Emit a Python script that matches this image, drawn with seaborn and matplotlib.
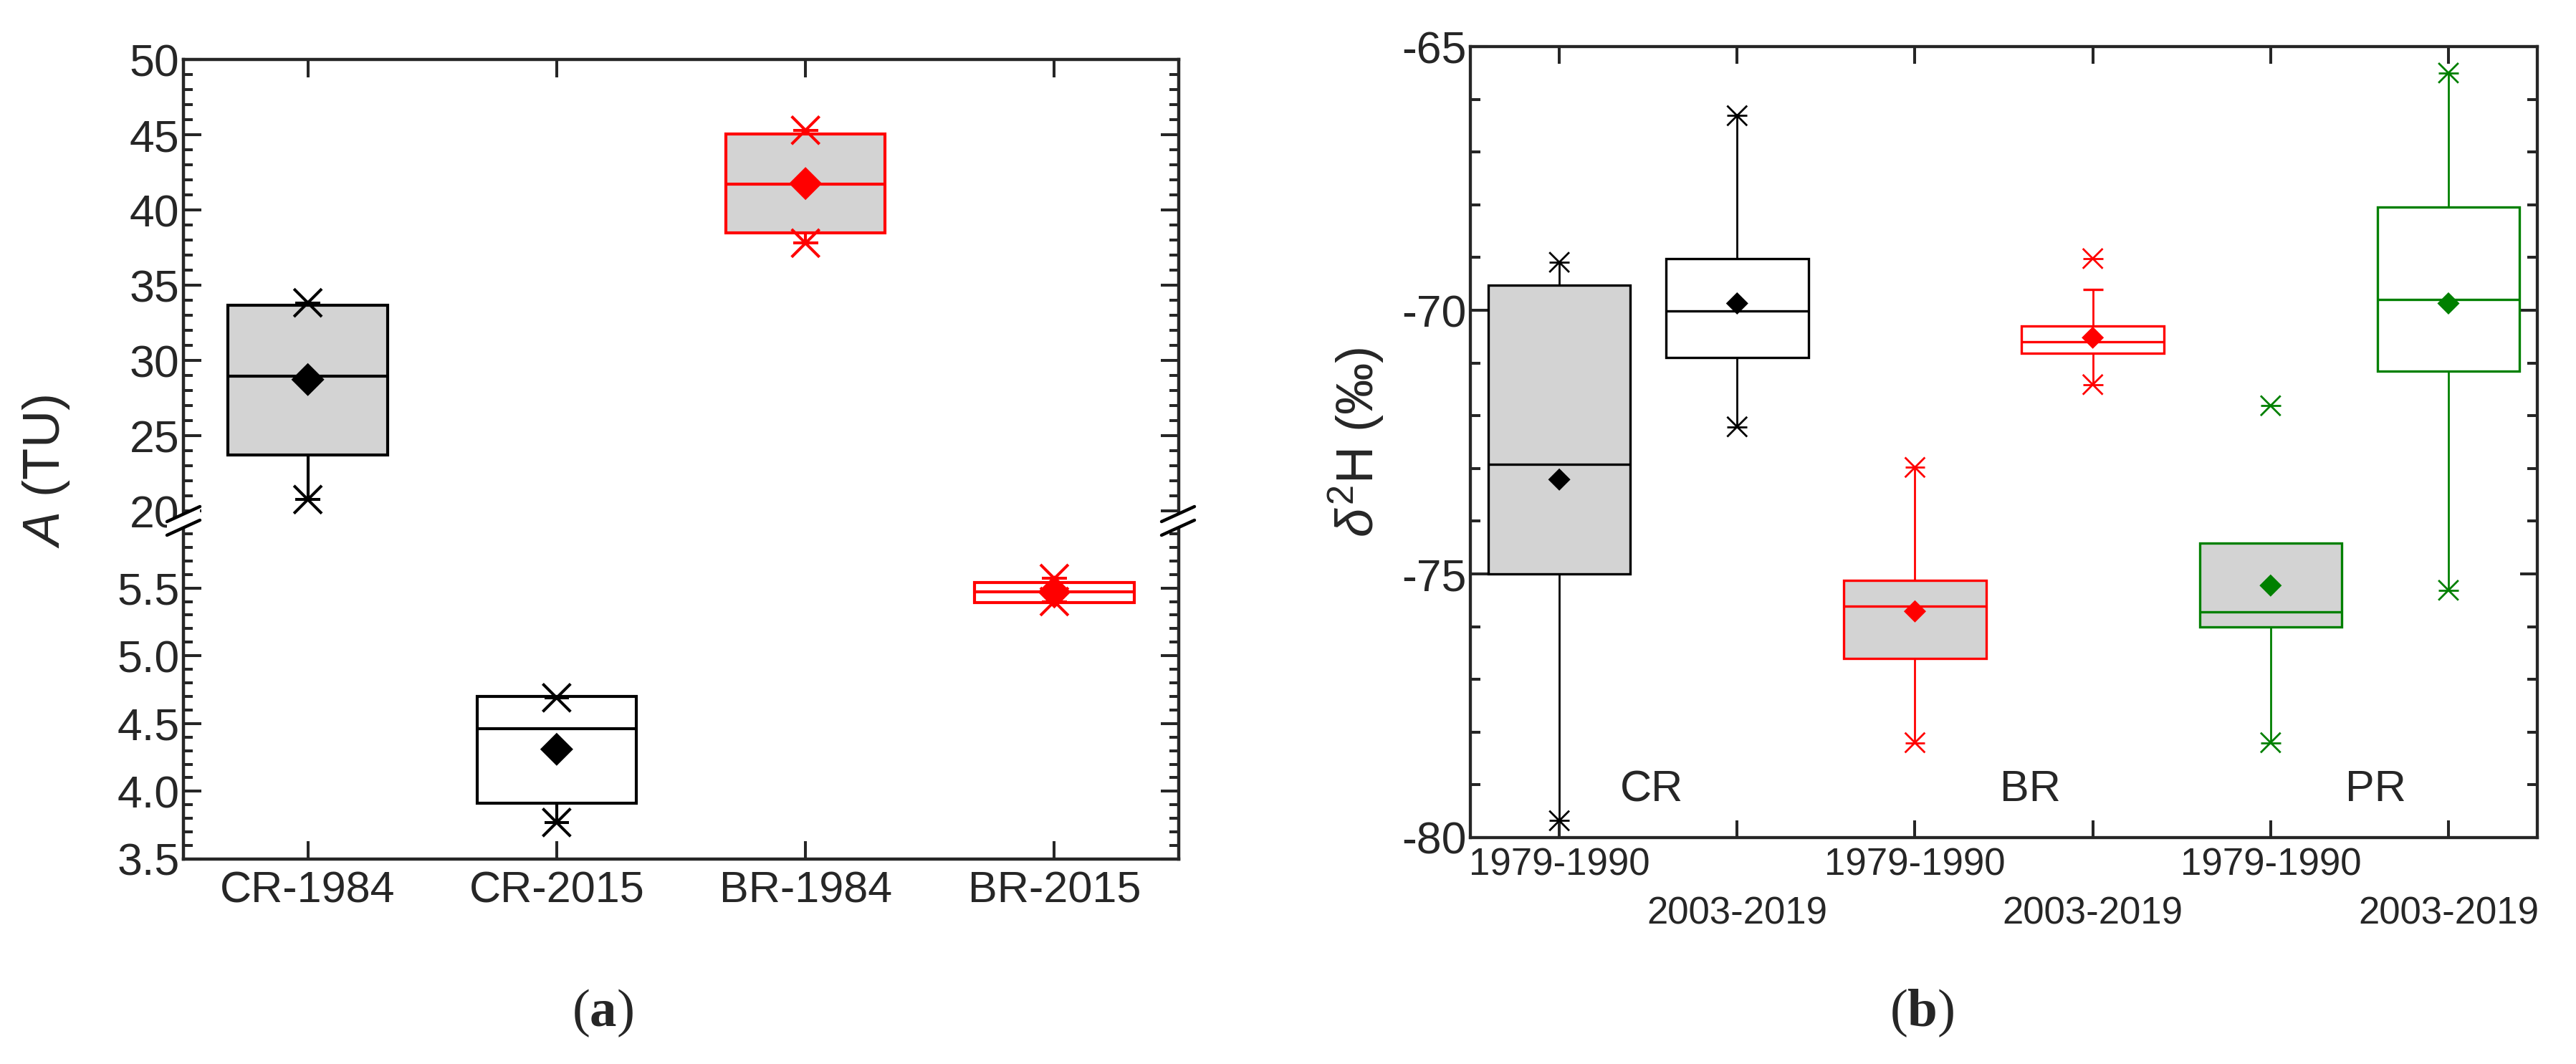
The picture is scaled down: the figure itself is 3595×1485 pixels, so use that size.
import numpy as np
import pandas as pd
import matplotlib
matplotlib.use('Agg')
import matplotlib.pyplot as plt
from matplotlib.patches import Polygon
from matplotlib.lines import Line2D
from matplotlib.ticker import MultipleLocator, FixedLocator, FormatStrFormatter
import seaborn as sns

# (a) tritium activity, A (TU)
grupos_a = ['CR-1984', 'CR-2015', 'BR-1984', 'BR-2015']
cores_a = ['black', 'black', 'red', 'red']
fundo_a = ['lightgray', 'white', 'lightgray', 'white']
q1_a = [23.72, 3.91, 38.50, 5.39]
mediana_a = [28.96, 4.46, 41.72, 5.47]
q3_a = [33.66, 4.70, 45.03, 5.54]
media_a = [28.74, 4.31, 41.76, 5.47]
min_a = [20.77, 3.77, 37.80, 5.40]
max_a = [33.84, 4.69, 45.30, 5.57]

# (b) delta 2H (permil)
periodos_b = ['1979-1990', '2003-2019', '1979-1990', '2003-2019', '1979-1990', '2003-2019']
rios_b = ['CR', 'BR', 'PR']
rios_x = [1.52, 3.65, 5.59]
cores_b = ['black', 'black', 'red', 'red', 'green', 'green']
fundo_b = ['lightgray', 'white', 'lightgray', 'white', 'lightgray', 'white']
q1_b = [-75.00, -70.90, -76.61, -70.82, -76.01, -71.15]
mediana_b = [-72.92, -70.02, -75.61, -70.60, -75.72, -69.80]
q3_b = [-69.52, -69.02, -75.12, -70.30, -74.41, -68.04]
media_b = [-73.21, -69.87, -75.71, -70.52, -75.22, -69.87]
bigode_min_b = [-79.68, -72.21, -78.20, -71.41, -78.20, -75.31]
bigode_max_b = [-69.09, -66.31, -72.98, -69.61, -74.41, -65.50]
min_b = [-79.68, -72.21, -78.20, -71.41, -78.20, -75.31]
max_b = [-69.09, -66.31, -72.98, -69.02, -71.81, -65.50]
com_capa_b = [False, False, False, True, False, False]

sns.set_style('ticks')
plt.rcParams['font.family'] = ['Liberation Sans', 'DejaVu Sans']
plt.rcParams['axes.unicode_minus'] = False
plt.rcParams['mathtext.fontset'] = 'custom'
plt.rcParams['mathtext.rm'] = 'Liberation Sans'
plt.rcParams['mathtext.it'] = 'Liberation Sans:italic'
plt.rcParams['mathtext.bf'] = 'Liberation Serif:bold'

fig = plt.figure(figsize=(35.95, 14.85), dpi=100)
ax_hi = fig.add_axes([0.0712, 0.5111, 0.3864, 0.4330])
ax_lo = fig.add_axes([0.0712, 0.1926, 0.3864, 0.3185])
ax_b = fig.add_axes([0.5708, 0.2128, 0.4142, 0.7434])


def caixa(ax, pos, q1, med, q3, lo, hi, cor, fundo, larg, lw, wlw):
    stats = [dict(med=med, q1=q1, q3=q3, whislo=lo, whishi=hi, fliers=[])]
    ax.bxp(stats, positions=[pos], widths=larg, patch_artist=True,
           showfliers=False, showcaps=False, manage_ticks=False,
           boxprops=dict(facecolor=fundo, edgecolor=cor, linewidth=lw),
           medianprops=dict(color=cor, linewidth=lw),
           whiskerprops=dict(color=cor, linewidth=wlw))


pos_a = np.arange(1, len(grupos_a) + 1)
paleta = {'black': 'black', 'red': 'red', 'green': 'green'}

for ax in (ax_hi, ax_lo):
    for i in range(len(grupos_a)):
        hi = max(max_a[i], q3_a[i])
        caixa(ax, pos_a[i], q1_a[i], mediana_a[i], q3_a[i], min_a[i], hi,
              cores_a[i], fundo_a[i], 0.64, 3.0, 3.0)
    # extremos: x + barra horizontal
    for y in (min_a, max_a):
        sns.scatterplot(x=pos_a, y=y, hue=cores_a, palette=paleta, marker='x',
                        s=784, linewidth=2.9, legend=False, ax=ax, zorder=4)
        sns.scatterplot(x=pos_a, y=y, hue=cores_a, palette=paleta, marker='_',
                        s=625, linewidth=2.9, legend=False, ax=ax, zorder=4)
    sns.scatterplot(x=pos_a, y=media_a, hue=cores_a, palette=paleta, marker='D',
                    s=550, linewidth=0, legend=False, ax=ax, zorder=5)
    ax.set_xlim(0.5, 4.5)
    ax.set_xlabel('')
    ax.set_ylabel('')
    ax.set_xticks(pos_a)
    for sp in ax.spines.values():
        sp.set_linewidth(3.2)
        sp.set_visible(True)
    ax.tick_params(which='major', direction='in', length=18, width=2.9,
                   labelsize=45, right=True, top=True, pad=4)
    ax.tick_params(which='minor', direction='in', length=9.5, width=2.9,
                   right=True, left=True)

ax_hi.set_ylim(19.4, 50)
ax_hi.yaxis.set_major_locator(FixedLocator(np.arange(20, 51, 5)))
ax_hi.yaxis.set_minor_locator(MultipleLocator(1))
ax_hi.spines['bottom'].set_visible(False)
ax_hi.tick_params(axis='x', bottom=False, labelbottom=False)

ax_lo.set_ylim(3.5, 6.0)
ax_lo.yaxis.set_major_locator(FixedLocator(np.arange(3.5, 5.51, 0.5)))
ax_lo.yaxis.set_minor_locator(MultipleLocator(0.1))
ax_lo.yaxis.set_major_formatter(FormatStrFormatter('%.1f'))
ax_lo.spines['top'].set_visible(False)
ax_lo.tick_params(axis='x', top=False, pad=12, labelsize=44)
ax_lo.set_xticklabels(grupos_a)

# marcas de quebra do eixo
W, H = 3595, 1485
for xs in (256, 1644):
    l1 = [((xs - 23) / W, 1 - 728 / H), ((xs + 23) / W, 1 - 707 / H)]
    l2 = [((xs - 23) / W, 1 - 747 / H), ((xs + 23) / W, 1 - 726 / H)]
    fig.add_artist(Polygon([l1[0], l1[1], l2[1], l2[0]], closed=True,
                           facecolor='white', edgecolor='none',
                           transform=fig.transFigure, zorder=10))
    for ln in (l1, l2):
        fig.add_artist(Line2D([ln[0][0], ln[1][0]], [ln[0][1], ln[1][1]],
                              color='black', linewidth=3.2,
                              transform=fig.transFigure, zorder=11))

fig.text(0.018, 0.557, r'$\mathit{A}$ (TU)', rotation=90, ha='center',
         va='center', fontsize=52)

# (b)
pos_b = np.arange(1, len(periodos_b) + 1)
for i in range(len(periodos_b)):
    caixa(ax_b, pos_b[i], q1_b[i], mediana_b[i], q3_b[i], bigode_min_b[i],
          bigode_max_b[i], cores_b[i], fundo_b[i], 0.8, 2.4, 2.0)
    if com_capa_b[i]:
        ax_b.hlines(bigode_max_b[i], pos_b[i] - 0.056, pos_b[i] + 0.056,
                    color=cores_b[i], linewidth=2.4)

for y in (min_b, max_b):
    sns.scatterplot(x=pos_b, y=y, hue=cores_b, palette=paleta, marker='x',
                    s=400, linewidth=2.0, legend=False, ax=ax_b, zorder=4)
    sns.scatterplot(x=pos_b, y=y, hue=cores_b, palette=paleta, marker='_',
                    s=400, linewidth=2.0, legend=False, ax=ax_b, zorder=4)
sns.scatterplot(x=pos_b, y=media_b, hue=cores_b, palette=paleta, marker='D',
                s=250, linewidth=0, legend=False, ax=ax_b, zorder=5)

for x, nome in zip(rios_x, rios_b):
    ax_b.text(x, -79.1, nome, ha='center', va='center', fontsize=44)

ax_b.set_xlim(0.5, 6.5)
ax_b.set_ylim(-80, -65)
ax_b.set_xticks(pos_b)
ax_b.set_xticklabels([p if i % 2 == 0 else '\n' + p for i, p in enumerate(periodos_b)])
for t in ax_b.get_xticklabels():
    t.set_linespacing(1.45)
ax_b.yaxis.set_major_locator(MultipleLocator(5))
ax_b.yaxis.set_minor_locator(MultipleLocator(1))
for sp in ax_b.spines.values():
    sp.set_linewidth(3.1)
ax_b.tick_params(which='major', direction='in', length=17, width=2.9,
                 right=True, top=True)
ax_b.tick_params(axis='x', labelsize=38, pad=10)
ax_b.tick_params(axis='y', labelsize=45, pad=4)
ax_b.tick_params(which='minor', direction='in', length=10, width=2.9,
                 right=True, left=True)
ax_b.set_xlabel('')
ax_b.set_ylabel(r'$\mathit{\delta}^2$H (‰)', fontsize=52, labelpad=16)

fig.text(0.234, 0.048, r'($\mathbf{a}$)', ha='center', va='center',
         fontsize=54, family='Liberation Serif')
fig.text(0.746, 0.048, r'($\mathbf{b}$)', ha='center', va='center',
         fontsize=54, family='Liberation Serif')

fig.savefig('out.png', dpi=100)
